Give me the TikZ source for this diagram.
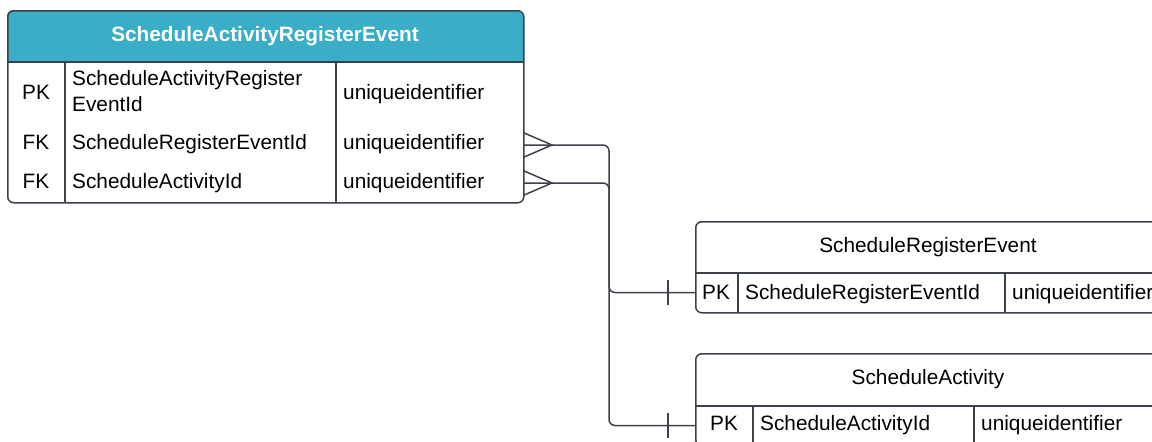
\documentclass[tikz,border=0pt]{standalone}
\usepackage{fontspec}
\setmainfont{Liberation Sans}
\usetikzlibrary{positioning}
\usetikzlibrary{calc}
\definecolor{headteal}{RGB}{57,174,198}
\definecolor{linegray}{RGB}{60,66,76}

\begin{document}
\begin{tikzpicture}
            [
                x=1pt, y=-1pt,
                every node/.style={font=\fontsize{20.8}{26}\selectfont, inner sep=0pt},
                entity/.style={rectangle, draw=linegray, line width=1.5pt, rounded corners=6pt, anchor=north west},
                cell/.style={anchor=base west},
                key/.style={anchor=base},
                rule/.style={draw=linegray, line width=1.5pt},
                link/.style={draw=linegray, line width=1.5pt, rounded corners=6pt}
            ]
            \clip (0,0) rectangle (1152,442);
            %tables
            \fill[headteal, rounded corners=6pt] (7,10) rectangle (523,62);
            \fill[headteal] (7,40) rectangle (523,62);
            \node[entity, minimum width=516, minimum height=192] at (7,10)      (sare)     {};
            \node[entity, minimum width=466, minimum height=91]  at (695,221)   (sre)      {};
            \node[entity, minimum width=466, minimum height=92]  at (695,353)   (sa)       {};
            \draw[rule] (7,62) -- (523,62);
            \draw[rule] (65,62) -- (65,202);
            \draw[rule] (336,62) -- (336,202);
            \draw[rule] (695,273) -- (1161,273);
            \draw[rule] (738,273) -- (738,312);
            \draw[rule] (1005,273) -- (1005,312);
            \draw[rule] (695,406) -- (1161,406);
            \draw[rule] (753,406) -- (753,445);
            \draw[rule] (974,406) -- (974,445);
            %texts
            \node[key, text=white, font=\fontsize{20.8}{26}\selectfont\bfseries] at (265,41) (sare_title) {ScheduleActivityRegisterEvent};
            \node[key]  at (36,99)     (sare_pk)       {PK};
            \node[cell, anchor=north west, align=left] at (72,70) (sare_id) {ScheduleActivityRegister\\EventId};
            \node[cell] at (343,99)    (sare_id_type)  {uniqueidentifier};
            \node[key]  at (36,149)    (sare_fk1)      {FK};
            \node[cell] at (72,149)    (sare_reg)      {ScheduleRegisterEventId};
            \node[cell] at (343,149)   (sare_reg_type) {uniqueidentifier};
            \node[key]  at (36,188)    (sare_fk2)      {FK};
            \node[cell] at (72,188)    (sare_act)      {ScheduleActivityId};
            \node[cell] at (343,188)   (sare_act_type) {uniqueidentifier};
            \node[key]  at (928,252)   (sre_title)     {ScheduleRegisterEvent};
            \node[key]  at (716,299)   (sre_pk)        {PK};
            \node[cell] at (745,299)   (sre_id)        {ScheduleRegisterEventId};
            \node[cell] at (1012,299)  (sre_id_type)   {uniqueidentifier};
            \node[key]  at (928,384)   (sa_title)      {ScheduleActivity};
            \node[key]  at (724,430)   (sa_pk)         {PK};
            \node[cell] at (760,430)   (sa_id)         {ScheduleActivityId};
            \node[cell] at (981,430)   (sa_id_type)    {uniqueidentifier};
            %ports
            \coordinate (sare_reg_port) at (523,145);
            \coordinate (sare_act_port) at (523,183);
            \coordinate (sre_port)      at (695,292.5);
            \coordinate (sa_port)       at (695,425.5);
            \coordinate (bus)           at (609,0);
            %arrows
            \draw[link] (sare_reg_port) -- (sare_reg_port -| bus) -- (bus |- sre_port) -- (sre_port);
            \draw[link] (sare_act_port) -- (sare_act_port -| bus) -- (bus |- sa_port) -- (sa_port);
            \draw[rule] ($(sare_reg_port)+(0,-12.5)$) -- ++(29,12.5) -- ++(-29,12.5);
            \draw[rule] ($(sare_act_port)+(0,-12.5)$) -- ++(29,12.5) -- ++(-29,12.5);
            \draw[rule] ($(sre_port)+(-27,-12.5)$) -- ++(0,25);
            \draw[rule] ($(sa_port)+(-27,-12.5)$) -- ++(0,25);
\end{tikzpicture}
\end{document}
